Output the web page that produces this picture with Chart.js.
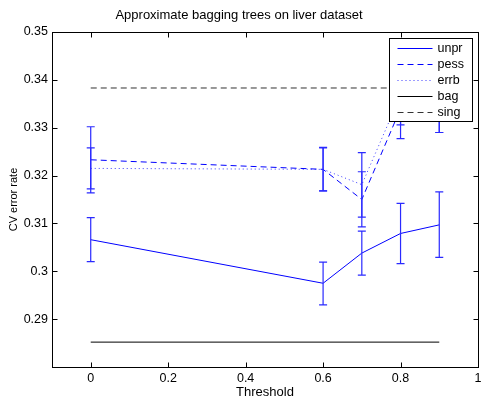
<!DOCTYPE html>
<html>
<head>
<meta charset="utf-8">
<script src="https://cdn.jsdelivr.net/npm/chart.js@4/dist/chart.umd.min.js"></script>
<style>
  html, body { margin: 0; padding: 0; background: #fff; }
</style>
</head>
<body>
<canvas id="bagChart" width="493" height="402"></canvas>
<script>
// data
var thresholds = [0, 0.6, 0.7, 0.8, 0.9];

var unpr   = [0.3066, 0.2975, 0.3038, 0.3079, 0.3097];
var unprLo = [0.3020, 0.2930, 0.2992, 0.3016, 0.3029];
var unprHi = [0.3112, 0.3019, 0.3084, 0.3142, 0.3166];

var pess   = [0.3233, 0.3213, 0.3150, 0.3340, 0.3355];
var pessLo = [0.3164, 0.3168, 0.3093, 0.3277, 0.3290];
var pessHi = [0.3302, 0.3259, 0.3208, 0.3403, 0.3420];

var errb   = [0.3215, 0.3213, 0.3181, 0.3368, 0.3355];
var errbLo = [0.3172, 0.3168, 0.3113, 0.3306, 0.3290];
var errbHi = [0.3258, 0.3258, 0.3248, 0.3430, 0.3420];

var bagX = [0, 0.9];
var bag  = [0.2852, 0.2852];
var singX = [0, 0.9];
var sing  = [0.3383, 0.3383];

var seriesNames = ['unpr', 'pess', 'errb', 'bag', 'sing'];

var xTicks = [0, 0.2, 0.4, 0.6, 0.8, 1];
var xTickLabels = ['0', '0.2', '0.4', '0.6', '0.8', '1'];
var yTicks = [0.29, 0.30, 0.31, 0.32, 0.33, 0.34, 0.35];
var yTickLabels = ['0.29', '0.3', '0.31', '0.32', '0.33', '0.34', '0.35'];

var FONT = "'Liberation Sans', Arial, Helvetica, sans-serif";

function pts(xs, ys) {
  var out = [];
  for (var i = 0; i < xs.length; i++) {
    out.push({x: xs[i], y: ys[i]});
  }
  return out;
}

var errorBars = [
  {lo: unprLo, hi: unprHi},
  {lo: pessLo, hi: pessHi},
  {lo: errbLo, hi: errbHi}
];

// error bars, axis box with inward ticks, legend box
var matlabLook = {
  id: 'matlabLook',
  afterDatasetsDraw: function(chart) {
    var ctx = chart.ctx;
    var xs = chart.scales.x, ys = chart.scales.y;
    var a = chart.chartArea;

    ctx.save();
    ctx.strokeStyle = '#2a2aff';
    ctx.lineWidth = 1.2;
    ctx.setLineDash([]);
    for (var s = 0; s < errorBars.length; s++) {
      for (var i = 0; i < thresholds.length; i++) {
        var px = xs.getPixelForValue(thresholds[i]);
        var top = ys.getPixelForValue(errorBars[s].hi[i]);
        var bot = ys.getPixelForValue(errorBars[s].lo[i]);
        ctx.beginPath();
        ctx.moveTo(px, top); ctx.lineTo(px, bot);
        ctx.moveTo(px - 4, top); ctx.lineTo(px + 4, top);
        ctx.moveTo(px - 4, bot); ctx.lineTo(px + 4, bot);
        ctx.stroke();
      }
    }
    ctx.restore();

    // frame + ticks
    var L = Math.round(a.left) + 0.5, R = Math.round(a.right) + 0.5;
    var T = Math.round(a.top) + 0.5, B = Math.round(a.bottom) + 0.5;
    ctx.save();
    ctx.strokeStyle = '#000';
    ctx.lineWidth = 1;
    ctx.beginPath();
    for (var k = 0; k < xTicks.length; k++) {
      var tx = Math.round(xs.getPixelForValue(xTicks[k])) + 0.5;
      ctx.moveTo(tx, B); ctx.lineTo(tx, B - 5);
      ctx.moveTo(tx, T); ctx.lineTo(tx, T + 5);
    }
    for (var m = 0; m < yTicks.length; m++) {
      var ty = Math.round(ys.getPixelForValue(yTicks[m])) + 0.5;
      ctx.moveTo(L, ty); ctx.lineTo(L + 5, ty);
      ctx.moveTo(R, ty); ctx.lineTo(R - 5, ty);
    }
    ctx.stroke();
    ctx.strokeRect(L, T, R - L, B - T);
    ctx.restore();

    // legend
    var bx = R - 89, by = T + 6, bw = 83, bh = 83;
    ctx.save();
    ctx.fillStyle = '#fff';
    ctx.fillRect(bx, by, bw, bh);
    ctx.strokeStyle = '#000';
    ctx.strokeRect(bx, by, bw, bh);
    ctx.font = '12.5px ' + FONT;
    ctx.textBaseline = 'middle';
    ctx.fillStyle = '#000';
    var ds = chart.data.datasets;
    for (var n = 0; n < seriesNames.length; n++) {
      var rowY = Math.round(by + 9 + n * 16.2) + 0.5;
      ctx.strokeStyle = ds[n].borderColor;
      ctx.setLineDash(ds[n].borderDash || []);
      ctx.beginPath();
      ctx.moveTo(bx + 8, rowY);
      ctx.lineTo(bx + 43, rowY);
      ctx.stroke();
      ctx.fillText(seriesNames[n], bx + 48, rowY);
    }
    ctx.restore();
  }
};

var ctx = document.getElementById('bagChart');

var myChart = new Chart(ctx, {
  type: 'line',
  data: {
    datasets: [
      {label: seriesNames[0], data: pts(thresholds, unpr), borderColor: '#0000ff', borderDash: []},
      {label: seriesNames[1], data: pts(thresholds, pess), borderColor: '#0000ff', borderDash: [6, 4]},
      {label: seriesNames[2], data: pts(thresholds, errb), borderColor: '#3a3aff', borderDash: [1, 3]},
      {label: seriesNames[3], data: pts(bagX, bag), borderColor: '#000000', borderDash: []},
      {label: seriesNames[4], data: pts(singX, sing), borderColor: '#333333', borderDash: [6, 4]}
    ]
  },
  options: {
    responsive: false,
    animation: false,
    events: [],
    layout: {padding: {left: 0, right: 15, top: 0, bottom: 0}},
    elements: {
      line: {borderWidth: 1, tension: 0, fill: false},
      point: {radius: 0}
    },
    plugins: {
      legend: {display: false},
      tooltip: {enabled: false},
      title: {
        display: true,
        text: 'Approximate bagging trees on liver dataset',
        color: '#000',
        font: {family: FONT, size: 13, weight: 'normal'},
        padding: {top: 8, bottom: 8.4}
      }
    },
    scales: {
      x: {
        type: 'linear',
        min: -0.1,
        max: 1,
        afterBuildTicks: function(s) { s.ticks = xTicks.map(function(v) { return {value: v}; }); },
        afterFit: function(s) { s.height = 35; },
        ticks: {
          autoSkip: false, maxRotation: 0, padding: 4, color: '#000',
          font: {family: FONT, size: 12.5},
          callback: function(v, i) { return xTickLabels[i]; }
        },
        grid: {display: false, drawTicks: false},
        border: {display: false},
        title: {
          display: true, text: 'Threshold', color: '#000',
          font: {family: FONT, size: 13}, padding: {top: 0, bottom: 2}
        }
      },
      y: {
        type: 'linear',
        min: 0.28,
        max: 0.35,
        afterBuildTicks: function(s) { s.ticks = yTicks.map(function(v) { return {value: v}; }); },
        afterFit: function(s) { s.width = 52; },
        ticks: {
          autoSkip: false, padding: 4, color: '#000',
          font: {family: FONT, size: 12.5},
          callback: function(v, i) { return yTickLabels[i]; }
        },
        grid: {display: false, drawTicks: false},
        border: {display: false},
        title: {
          display: true, text: 'CV error rate', color: '#000',
          font: {family: FONT, size: 11}, padding: {top: 7, bottom: 0}
        }
      }
    }
  },
  plugins: [matlabLook]
});
</script>
</body>
</html>
